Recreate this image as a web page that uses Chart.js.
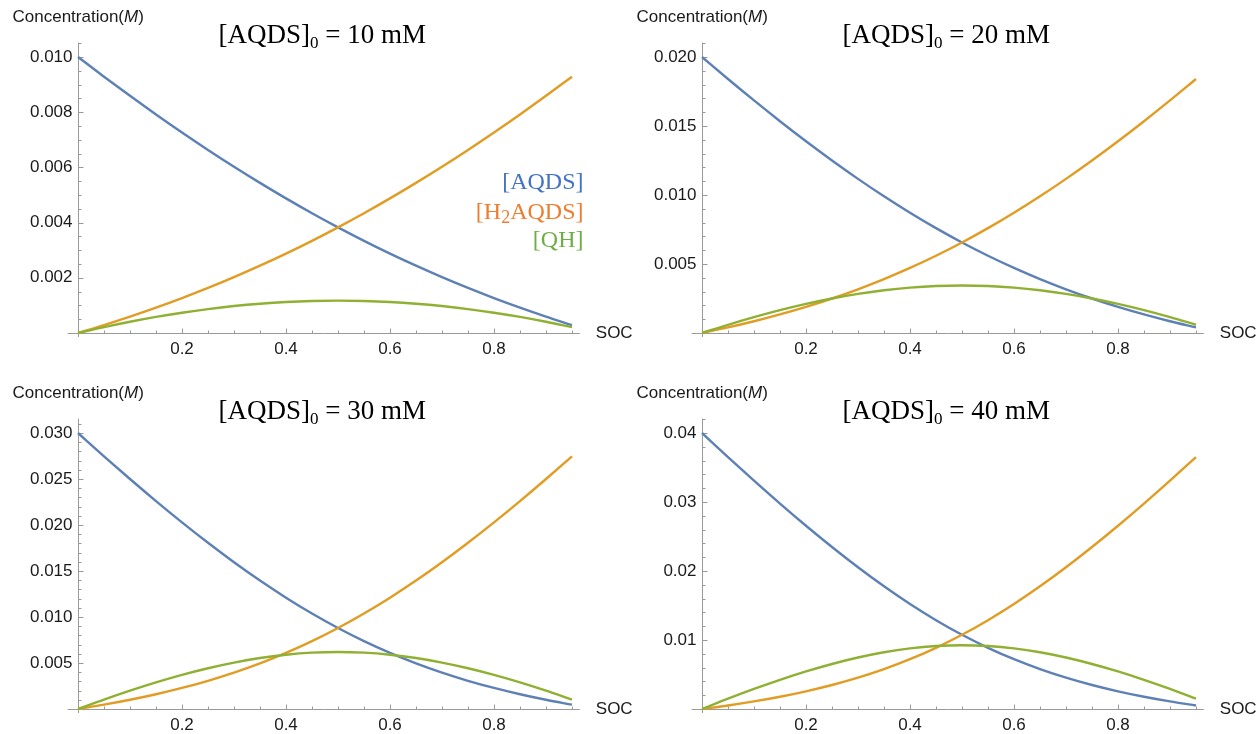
<!DOCTYPE html>
<html>
<head>
<meta charset="utf-8">
<script src="https://cdn.jsdelivr.net/npm/chart.js@4.4.1/dist/chart.umd.min.js"></script>
<style>
html,body{margin:0;padding:0;background:#ffffff;}
#wrap{position:relative;width:1257px;height:734px;overflow:hidden;background:#ffffff;}
#wrap canvas{position:absolute;left:0;top:0;}
</style>
</head>
<body>
<div id="wrap">
<canvas id="c1" width="1257" height="734"></canvas>
<canvas id="c2" width="1257" height="734"></canvas>
<canvas id="c3" width="1257" height="734"></canvas>
<canvas id="c4" width="1257" height="734"></canvas>
</div>
<script>
// ---------- data ----------
const soc = [0, 0.05, 0.10, 0.15, 0.20, 0.25, 0.30, 0.35, 0.40, 0.45, 0.50, 0.55, 0.60, 0.65, 0.70, 0.75, 0.80, 0.85, 0.90, 0.95];

const aqds10   = [0.0100, 0.009287, 0.008593, 0.007918, 0.007265, 0.006633, 0.006024, 0.005439, 0.004877, 0.004340, 0.003828, 0.003340, 0.002877, 0.002439, 0.002024, 0.001633, 0.001265, 0.000918, 0.000593, 0.000287];
const h2aqds10 = [0, 0.000287, 0.000593, 0.000918, 0.001265, 0.001633, 0.002024, 0.002439, 0.002877, 0.003340, 0.003828, 0.004340, 0.004877, 0.005439, 0.006024, 0.006633, 0.007265, 0.007918, 0.008593, 0.009287];
const qh10     = [0, 0.000213, 0.000407, 0.000582, 0.000735, 0.000867, 0.000976, 0.001061, 0.001123, 0.001160, 0.001172, 0.001160, 0.001123, 0.001061, 0.000976, 0.000867, 0.000735, 0.000582, 0.000407, 0.000213];

const aqds20   = [0.0200, 0.018404, 0.016852, 0.015347, 0.013894, 0.012500, 0.011169, 0.009905, 0.008714, 0.007598, 0.006559, 0.005598, 0.004714, 0.003905, 0.003169, 0.002500, 0.001894, 0.001347, 0.000852, 0.000404];
const h2aqds20 = [0, 0.000404, 0.000852, 0.001347, 0.001894, 0.002500, 0.003169, 0.003905, 0.004714, 0.005598, 0.006559, 0.007598, 0.008714, 0.009905, 0.011169, 0.012500, 0.013894, 0.015347, 0.016852, 0.018404];
const qh20     = [0, 0.000596, 0.001148, 0.001653, 0.002106, 0.002500, 0.002831, 0.003095, 0.003286, 0.003402, 0.003441, 0.003402, 0.003286, 0.003095, 0.002831, 0.002500, 0.002106, 0.001653, 0.001148, 0.000596];

const aqds30   = [0.0300, 0.027469, 0.025000, 0.022602, 0.020287, 0.018067, 0.015954, 0.013960, 0.012098, 0.010376, 0.008802, 0.007376, 0.006098, 0.004960, 0.003954, 0.003067, 0.002287, 0.001602, 0.001000, 0.000469];
const h2aqds30 = [0, 0.000469, 0.001000, 0.001602, 0.002287, 0.003067, 0.003954, 0.004960, 0.006098, 0.007376, 0.008802, 0.010376, 0.012098, 0.013960, 0.015954, 0.018067, 0.020287, 0.022602, 0.025000, 0.027469];
const qh30     = [0, 0.001031, 0.002000, 0.002898, 0.003713, 0.004433, 0.005046, 0.005540, 0.005902, 0.006124, 0.006198, 0.006124, 0.005902, 0.005540, 0.005046, 0.004433, 0.003713, 0.002898, 0.002000, 0.001031];

const aqds40   = [0.0400, 0.036510, 0.033097, 0.029774, 0.026560, 0.023475, 0.020540, 0.017779, 0.015216, 0.012869, 0.010752, 0.008869, 0.007216, 0.005779, 0.004540, 0.003475, 0.002560, 0.001774, 0.001097, 0.000510];
const h2aqds40 = [0, 0.000510, 0.001097, 0.001774, 0.002560, 0.003475, 0.004540, 0.005779, 0.007216, 0.008869, 0.010752, 0.012869, 0.015216, 0.017779, 0.020540, 0.023475, 0.026560, 0.029774, 0.033097, 0.036510];
const qh40     = [0, 0.001490, 0.002903, 0.004226, 0.005440, 0.006525, 0.007460, 0.008221, 0.008784, 0.009131, 0.009248, 0.009131, 0.008784, 0.008221, 0.007460, 0.006525, 0.005440, 0.004226, 0.002903, 0.001490];

const socTickLabels = ['0.2', '0.4', '0.6', '0.8'];
const yTicks10 = ['0.002', '0.004', '0.006', '0.008', '0.010'];
const yTicks20 = ['0.005', '0.010', '0.015', '0.020'];
const yTicks30 = ['0.005', '0.010', '0.015', '0.020', '0.025', '0.030'];
const yTicks40 = ['0.01', '0.02', '0.03', '0.04'];

const seriesNames = ['[AQDS]', '[H2AQDS]', '[QH]'];
const concLabels = ['10', '20', '30', '40'];

// ---------- styles / layout ----------
const LINE_COLORS = ['#5E81B5', '#E19C24', '#8FB032'];
const LEGEND_COLORS = ['#4472C4', '#ED7D31', '#70AD47'];
const AXIS_COLOR = '#9a9a9a';
const SANS = '"Liberation Sans", Arial, sans-serif';
const SERIF = '"Liberation Serif", "Times New Roman", serif';
const PX_PER_SOC = 520;
const PX_PER_C0 = 276;

const panels = [
  {id: 'c1', x0: 78,  y0: 333, c0: 0.010, conc: concLabels[0], a: aqds10, h: h2aqds10, q: qh10, yLabels: yTicks10, minor: 0.0005, legend: true},
  {id: 'c2', x0: 702, y0: 333, c0: 0.020, conc: concLabels[1], a: aqds20, h: h2aqds20, q: qh20, yLabels: yTicks20, minor: 0.001,  legend: false},
  {id: 'c3', x0: 78,  y0: 709, c0: 0.030, conc: concLabels[2], a: aqds30, h: h2aqds30, q: qh30, yLabels: yTicks30, minor: 0.001,  legend: false},
  {id: 'c4', x0: 702, y0: 709, c0: 0.040, conc: concLabels[3], a: aqds40, h: h2aqds40, q: qh40, yLabels: yTicks40, minor: 0.002,  legend: false}
];

const X_MIN = -0.02, X_MAX = 0.965;

function drawRuns(ctx, runs, x, y, align) {
  let w = 0;
  for (const r of runs) { ctx.font = r.font; w += ctx.measureText(r.t).width; }
  let cx = align === 'right' ? x - w : (align === 'center' ? x - w / 2 : x);
  ctx.textAlign = 'left';
  for (const r of runs) {
    ctx.font = r.font;
    if (r.color) ctx.fillStyle = r.color;
    ctx.fillText(r.t, cx, y + (r.dy || 0));
    cx += ctx.measureText(r.t).width;
  }
}

function makePlugin(p) {
  return {
    id: 'mmaAxes_' + p.id,
    beforeDatasetsDraw(chart) {
      const ctx = chart.ctx;
      const xs = chart.scales.x, ys = chart.scales.y;
      const px0 = Math.round(xs.getPixelForValue(0)) + 0.5;
      const py0 = Math.round(ys.getPixelForValue(0)) + 0.5;
      ctx.save();
      ctx.strokeStyle = AXIS_COLOR;
      ctx.lineWidth = 1;
      ctx.beginPath();
      ctx.moveTo(xs.left, py0); ctx.lineTo(xs.right, py0);
      ctx.moveTo(px0, ys.top); ctx.lineTo(px0, ys.bottom);
      ctx.stroke();
      // x ticks (major 0.2, minor 0.05), drawn inward
      ctx.beginPath();
      for (let k = 1; k * 0.05 <= X_MAX + 1e-9; k++) {
        const v = k * 0.05;
        const xp = Math.round(xs.getPixelForValue(v)) + 0.5;
        const len = (k % 4 === 0) ? 5 : 3;
        ctx.moveTo(xp, py0); ctx.lineTo(xp, py0 - len);
      }
      // y ticks
      const majorStep = parseFloat(p.yLabels[1]) - parseFloat(p.yLabels[0]);
      const ratio = Math.round(majorStep / p.minor);
      for (let k = 1; k * p.minor <= ys.max + 1e-12; k++) {
        const v = k * p.minor;
        const yp = Math.round(ys.getPixelForValue(v)) + 0.5;
        const len = (k % ratio === 0) ? 5 : 3;
        ctx.moveTo(px0, yp); ctx.lineTo(px0 + len, yp);
      }
      ctx.stroke();
      // tick labels
      ctx.fillStyle = '#1a1a1a';
      ctx.font = '17px ' + SANS;
      ctx.textBaseline = 'middle';
      ctx.textAlign = 'right';
      for (const lab of p.yLabels) {
        ctx.fillText(lab, px0 - 6, ys.getPixelForValue(parseFloat(lab)));
      }
      ctx.textAlign = 'center';
      for (const lab of socTickLabels) {
        ctx.fillText(lab, xs.getPixelForValue(parseFloat(lab)), py0 + 16);
      }
      // axis labels
      ctx.textAlign = 'left';
      ctx.fillText('SOC', xs.right + 16, py0);
      drawRuns(ctx, [
        {t: 'Concentration(', font: '17px ' + SANS},
        {t: 'M', font: 'italic 17px ' + SANS},
        {t: ')', font: '17px ' + SANS}
      ], px0 - 66, ys.top - 25, 'left');
      // panel title
      ctx.textBaseline = 'alphabetic';
      ctx.fillStyle = '#000000';
      drawRuns(ctx, [
        {t: '[AQDS]', font: '27px ' + SERIF},
        {t: '0', font: '17px ' + SERIF, dy: 5},
        {t: ' = ' + p.conc + ' mM', font: '27px ' + SERIF}
      ], px0 + 140, py0 - 291, 'left');
      // legend
      if (p.legend) {
        const rx = px0 + 505;
        drawRuns(ctx, [{t: seriesNames[0], font: '24px ' + SERIF, color: LEGEND_COLORS[0]}], rx, py0 - 145, 'right');
        drawRuns(ctx, [
          {t: '[H', font: '24px ' + SERIF, color: LEGEND_COLORS[1]},
          {t: '2', font: '18px ' + SERIF, dy: 4, color: LEGEND_COLORS[1]},
          {t: 'AQDS]', font: '24px ' + SERIF, color: LEGEND_COLORS[1]}
        ], rx, py0 - 115, 'right');
        drawRuns(ctx, [{t: seriesNames[2], font: '24px ' + SERIF, color: LEGEND_COLORS[2]}], rx, py0 - 87, 'right');
      }
      ctx.restore();
    }
  };
}

for (const p of panels) {
  const yMin = -0.0145 * p.c0, yMax = 1.052 * p.c0;
  const left = p.x0 + X_MIN * PX_PER_SOC;
  const right = p.x0 + X_MAX * PX_PER_SOC;
  const top = p.y0 - yMax / p.c0 * PX_PER_C0;
  const bottom = p.y0 - yMin / p.c0 * PX_PER_C0;
  const mk = (arr) => soc.map((s, i) => ({x: s, y: arr[i]}));
  new Chart(document.getElementById(p.id), {
    type: 'line',
    data: {
      datasets: [
        {label: seriesNames[0], data: mk(p.a), borderColor: LINE_COLORS[0], order: 3},
        {label: seriesNames[1], data: mk(p.h), borderColor: LINE_COLORS[1], order: 2},
        {label: seriesNames[2], data: mk(p.q), borderColor: LINE_COLORS[2], order: 1}
      ]
    },
    options: {
      responsive: false,
      animation: false,
      devicePixelRatio: 1,
      layout: {padding: {left: left, right: 1257 - right, top: top, bottom: 734 - bottom}},
      elements: {
        line: {borderWidth: 2.4, cubicInterpolationMode: 'monotone', fill: false},
        point: {radius: 0, hoverRadius: 0}
      },
      scales: {
        x: {type: 'linear', min: X_MIN, max: X_MAX, display: false},
        y: {type: 'linear', min: yMin, max: yMax, display: false}
      },
      plugins: {legend: {display: false}, tooltip: {enabled: false}, title: {display: false}}
    },
    plugins: [makePlugin(p)]
  });
}
</script>
</body>
</html>
